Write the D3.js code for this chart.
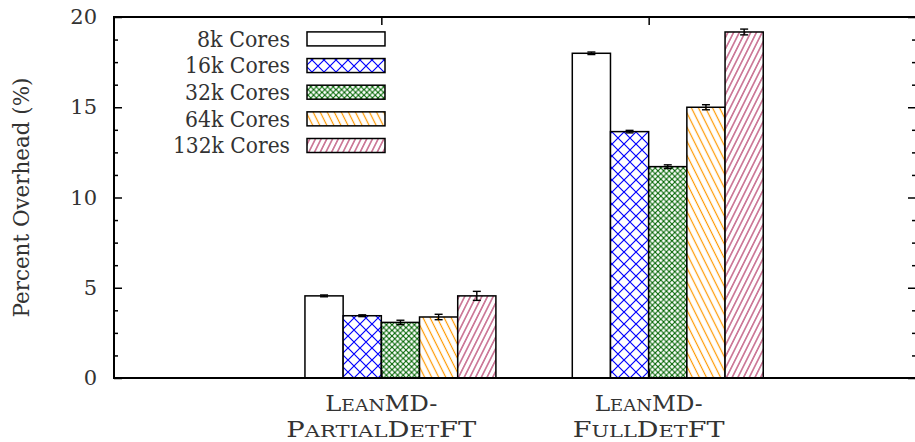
<!DOCTYPE html>
<html>
<head>
<meta charset="utf-8">
<script src="https://cdn.jsdelivr.net/npm/d3@7/dist/d3.min.js"></script>
<style>
  html, body { margin: 0; padding: 0; background: #fff; }
  svg { display: block; }
  text { font-family: "DejaVu Serif"; fill: #333; }
</style>
</head>
<body>
<svg id="chart" width="915" height="442"></svg>
<script>
// Benchmark configurations (x groups), drawn with small-caps labels
const categories = ["LeanMD-PartialDetFT", "LeanMD-FullDetFT"];
// Each label line is a list of [text, smallCaps] pieces
const categoryLabels = [
  [[["L", false], ["EAN", true], ["MD-", false]],
   [["P", false], ["ARTIAL", true], ["D", false], ["ET", true], ["FT", false]]],
  [[["L", false], ["EAN", true], ["MD-", false]],
   [["F", false], ["ULL", true], ["D", false], ["ET", true], ["FT", false]]]
];
// Rendered width of each label line
const categoryLabelWidths = [[112, 190], [108, 152]];

const series = ["8k Cores", "16k Cores", "32k Cores", "64k Cores", "132k Cores"];

// Percent overhead per series, one value per category
const overhead8k   = [4.55, 17.99];
const overhead16k  = [3.45, 13.65];
const overhead32k  = [3.08, 11.71];
const overhead64k  = [3.38, 15.00];
const overhead132k = [4.55, 19.17];

// Error bar half-widths per series
const err8k   = [0.05, 0.07];
const err16k  = [0.05, 0.07];
const err32k  = [0.12, 0.10];
const err64k  = [0.15, 0.14];
const err132k = [0.25, 0.16];

const yMajorTicks = [0, 5, 10, 15, 20];
const yMinorTicks = [1.25, 2.5, 3.75, 6.25, 7.5, 8.75, 11.25, 12.5, 13.75, 16.25, 17.5, 18.75];

const values = [overhead8k, overhead16k, overhead32k, overhead64k, overhead132k];
const errors = [err8k, err16k, err32k, err64k, err132k];

const serif = "DejaVu Serif";
const svg = d3.select("#chart");
const plotLeft = 114, plotRight = 916, plotTop = 17, plotBottom = 378;

// x is measured in bar widths; each cluster spans 5 bars plus a gap of 2
const clusterStep = series.length + 2;
const x = d3.scaleLinear().domain([-clusterStep, 2 * clusterStep]).range([plotLeft, plotRight]);
const y = d3.scaleLinear().domain([0, 20]).range([plotBottom, plotTop]);
const tickX = categories.map((c, i) => i * clusterStep);

// Fill patterns
const defs = svg.append("defs");
function crossPattern(id, size, color, width) {
  const p = defs.append("pattern").attr("id", id).attr("patternUnits", "userSpaceOnUse")
    .attr("width", size).attr("height", size);
  p.append("rect").attr("width", size).attr("height", size).attr("fill", "#fff");
  p.append("path").attr("d", `M0,0L${size},${size}M${size},0L0,${size}`)
    .attr("stroke", color).attr("stroke-width", width).attr("fill", "none");
}
function hatchPattern(id, spacing, angle, color, width) {
  const p = defs.append("pattern").attr("id", id).attr("patternUnits", "userSpaceOnUse")
    .attr("width", spacing).attr("height", 20).attr("patternTransform", `rotate(${angle})`);
  p.append("rect").attr("width", spacing).attr("height", 20).attr("fill", "#fff");
  p.append("line").attr("x1", spacing / 2).attr("x2", spacing / 2).attr("y1", -1).attr("y2", 21)
    .attr("stroke", color).attr("stroke-width", width);
}
crossPattern("p16", 12, "#0000ff", 1.2);
crossPattern("p32", 5.6, "#006400", 1.1);
hatchPattern("p64", 6.3, -26.57, "#ff9900", 1.2);
hatchPattern("p132", 5.1, 26.57, "#b03060", 1.1);
const fills = ["#ffffff", "url(#p16)", "url(#p32)", "url(#p64)", "url(#p132)"];

// Bars
const barData = [];
series.forEach((s, j) => {
  categories.forEach((c, i) => {
    barData.push({ s: j, c: i, v: values[j][i], e: errors[j][i], x0: tickX[i] + j - 2 });
  });
});

svg.append("g").selectAll("rect").data(barData).join("rect")
  .attr("x", d => x(d.x0))
  .attr("width", d => x(d.x0 + 1) - x(d.x0))
  .attr("y", d => y(d.v))
  .attr("height", d => y(0) - y(d.v))
  .attr("fill", d => fills[d.s])
  .attr("stroke", "#000")
  .attr("stroke-width", 1.5);

// Error bars
const eb = svg.append("g").attr("stroke", "#000").attr("stroke-width", 1.4);
barData.forEach(d => {
  const cx = x(d.x0 + 0.5);
  eb.append("line").attr("x1", cx).attr("x2", cx).attr("y1", y(d.v - d.e)).attr("y2", y(d.v + d.e));
  eb.append("line").attr("x1", cx - 4).attr("x2", cx + 4).attr("y1", y(d.v - d.e)).attr("y2", y(d.v - d.e));
  eb.append("line").attr("x1", cx - 4).attr("x2", cx + 4).attr("y1", y(d.v + d.e)).attr("y2", y(d.v + d.e));
});

// Axes (ticks point inward, mirrored on all sides)
function styleAxis(g) {
  g.select(".domain").remove();
  g.selectAll(".tick line").attr("stroke", "#000").attr("stroke-width", 1.5);
  g.selectAll(".tick text").attr("font-size", 21).attr("fill", "#333")
    .attr("font-family", serif);
}
svg.append("g").attr("transform", `translate(${plotLeft},0)`)
  .call(d3.axisLeft(y).tickValues(yMajorTicks).tickSize(-8).tickPadding(17).tickFormat(d3.format("d")))
  .call(styleAxis);
svg.append("g").attr("transform", `translate(${plotLeft},0)`)
  .call(d3.axisLeft(y).tickValues(yMinorTicks).tickSize(-4).tickFormat(""))
  .call(styleAxis);
svg.append("g").attr("transform", `translate(${plotRight},0)`)
  .call(d3.axisRight(y).tickValues(yMajorTicks).tickSize(-8).tickFormat(""))
  .call(styleAxis);
svg.append("g").attr("transform", `translate(${plotRight},0)`)
  .call(d3.axisRight(y).tickValues(yMinorTicks).tickSize(-4).tickFormat(""))
  .call(styleAxis);
svg.append("g").attr("transform", `translate(0,${plotTop})`)
  .call(d3.axisTop(x).tickValues(tickX).tickSize(-8).tickFormat(""))
  .call(styleAxis);
svg.append("g").attr("transform", `translate(0,${plotBottom})`)
  .call(d3.axisBottom(x).tickValues(tickX).tickSize(-8).tickFormat(""))
  .call(styleAxis);

// Frame
svg.append("rect").attr("x", plotLeft).attr("y", plotTop)
  .attr("width", plotRight - plotLeft).attr("height", plotBottom - plotTop)
  .attr("fill", "none").attr("stroke", "#000").attr("stroke-width", 2);

// Category labels in small caps, two lines each
const baseSize = 22, scSize = 17;
categoryLabels.forEach((lines, i) => {
  lines.forEach((parts, k) => {
    const t = svg.append("text")
      .attr("x", x(tickX[i]))
      .attr("y", 411 + k * 26)
      .attr("text-anchor", "middle")
      .attr("font-family", serif)
      .attr("textLength", categoryLabelWidths[i][k])
      .attr("lengthAdjust", "spacingAndGlyphs");
    parts.forEach(([str, sc]) => {
      t.append("tspan").attr("font-size", sc ? scSize : baseSize).text(str);
    });
  });
});

// Y axis title
svg.append("text")
  .attr("transform", `translate(29,${(plotTop + plotBottom) / 2}) rotate(-90)`)
  .attr("text-anchor", "middle")
  .attr("font-family", serif)
  .attr("font-size", 22)
  .attr("textLength", 240)
  .attr("lengthAdjust", "spacingAndGlyphs")
  .text("Percent Overhead (%)");

// Legend
const legendTextWidths = [93, 105, 105, 105, 117];
const legend = svg.append("g");
series.forEach((s, j) => {
  const cy = 38.9 + j * 26.65;
  legend.append("text")
    .attr("x", 290).attr("y", cy).attr("dy", "0.36em")
    .attr("text-anchor", "end").attr("font-size", 22)
    .attr("font-family", serif)
    .attr("textLength", legendTextWidths[j]).attr("lengthAdjust", "spacingAndGlyphs")
    .text(s);
  legend.append("rect")
    .attr("x", 307).attr("y", cy - 7).attr("width", 78).attr("height", 14)
    .attr("fill", fills[j]).attr("stroke", "#000").attr("stroke-width", 1.5);
});
</script>
</body>
</html>
